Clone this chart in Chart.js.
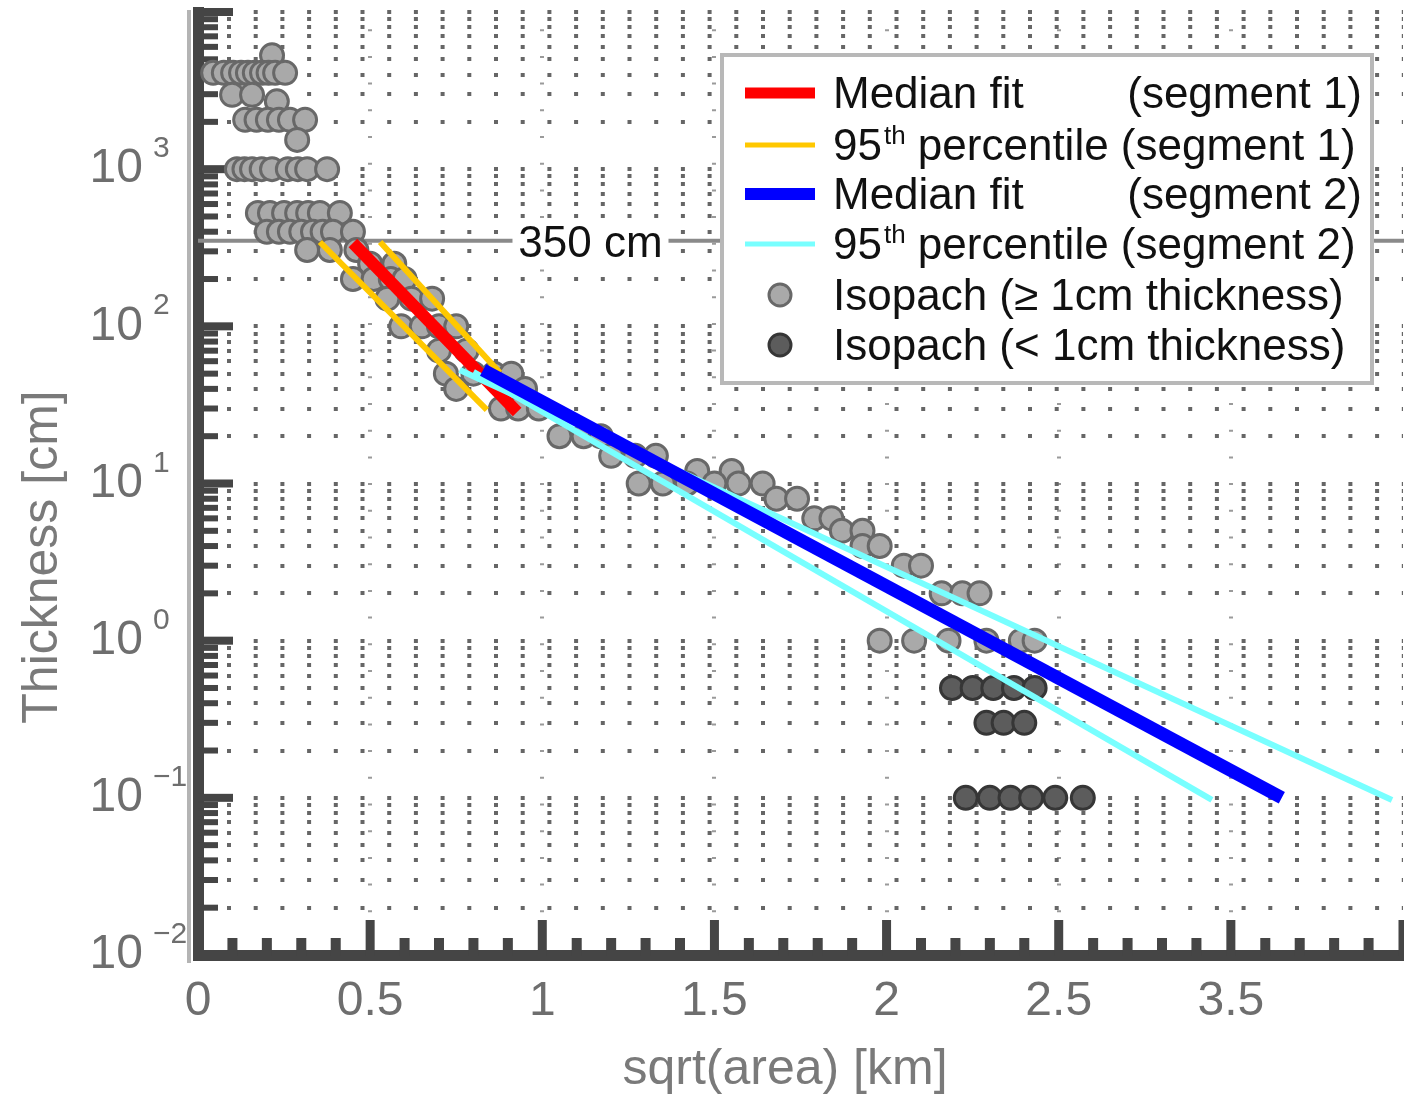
<!DOCTYPE html>
<html>
<head>
<meta charset="utf-8">
<title>Thickness vs sqrt(area)</title>
<script src="https://cdn.jsdelivr.net/npm/chart.js@4.4.1/dist/chart.umd.min.js"></script>
<style>
  html, body { margin: 0; padding: 0; background: #fff; overflow: hidden; }
  #wrap { width: 1404px; height: 1096px; }
</style>
</head>
<body>
<div id="wrap"><canvas id="isopachChart" width="1404" height="1096"></canvas></div>
<script>
const FONT = '"Liberation Sans", Arial, sans-serif';

// isopachs >= 1 cm: thickness level (cm) and the sqrt(area) values (km) found at that level
const grayLevels = [5300, 4100, 2970, 2700, 2060, 1535, 1000, 526, 400, 306, 250, 200, 150, 100,
  70, 50, 40, 30, 20, 15, 12, 10, 8, 6, 5, 4, 3, 2, 1];
const grayX = [
  [0.215],
  [0.044, 0.075, 0.102, 0.125, 0.145, 0.165, 0.186, 0.205, 0.224, 0.253],
  [0.099, 0.157],
  [0.229],
  [0.137, 0.17, 0.203, 0.235, 0.267, 0.311],
  [0.288],
  [0.113, 0.135, 0.157, 0.185, 0.215, 0.261, 0.29, 0.317, 0.375],
  [0.174, 0.209, 0.25, 0.288, 0.32, 0.354, 0.412],
  [0.2, 0.235, 0.267, 0.3, 0.334, 0.362, 0.392, 0.45],
  [0.317, 0.383, 0.46],
  [0.5, 0.57],
  [0.45, 0.51, 0.56, 0.6],
  [0.55, 0.62, 0.68],
  [0.59, 0.65, 0.7, 0.75],
  [0.7, 0.78],
  [0.72, 0.8, 0.86, 0.91],
  [0.75, 0.95],
  [0.88, 0.93, 0.99],
  [1.05, 1.12, 1.17],
  [1.2, 1.27, 1.33],
  [1.45, 1.55],
  [1.28, 1.35, 1.42, 1.5, 1.57, 1.64],
  [1.68, 1.74],
  [1.79, 1.84],
  [1.87, 1.93],
  [1.93, 1.98],
  [2.05, 2.1],
  [2.16, 2.22, 2.27],
  [1.98, 2.08, 2.18, 2.29, 2.39, 2.43]
];

// isopachs < 1 cm
const darkLevels = [0.5, 0.3, 0.1];
const darkX = [
  [2.19, 2.25, 2.31, 2.37, 2.43],
  [2.29, 2.34, 2.4],
  [2.23, 2.3, 2.36, 2.42, 2.49, 2.57]
];

// fitted lines, end points [sqrt(area) km, thickness cm]
const seg1MedianX = [0.45, 0.927];
const seg1MedianY = [339, 28.5];
const seg1LowX = [0.354, 0.839];
const seg1LowY = [344, 29.4];
const seg1HighX = [0.529, 0.877];
const seg1HighY = [344, 50.6];
const seg2MedianX = [0.828, 3.148];
const seg2MedianY = [52.8, 0.1];
const seg2HighX = [0.76, 3.468];
const seg2HighY = [52.8, 0.097];
const seg2LowX = [0.8, 2.945];
const seg2LowY = [51.3, 0.097];

const thresholdCm = 350;

const xTickValues = [0, 0.5, 1, 1.5, 2, 2.5, 3, 3.5];
const xTickLabels = ['0', '0.5', '1', '1.5', '2', '2.5', '3.5', ''];
const yDecades = [-2, -1, 0, 1, 2, 3];

const legendNames = ['Median fit', '95th percentile', 'Median fit', '95th percentile',
  'Isopach (\u2265 1cm thickness)', 'Isopach (< 1cm thickness)'];
const legendSegments = ['(segment 1)', '(segment 1)', '(segment 2)', '(segment 2)', '', ''];

// minor grid for the log axis: 1..9 x 10^k
const yGridValues = [];
yDecades.forEach(e => {
  for (let d = 1; d <= 9; d++) yGridValues.push(parseFloat((d * Math.pow(10, e)).toPrecision(3)));
});
yGridValues.push(10000);

function isDecade(v) {
  const l = Math.log10(v);
  return Math.abs(l - Math.round(l)) < 1e-9;
}

function rows(levels, xs) {
  const pts = [];
  levels.forEach((lv, i) => xs[i].forEach(x => pts.push({ x: x, y: lv })));
  return pts;
}

function pair(xs, ys) {
  return xs.map((x, i) => ({ x: x, y: ys[i] }));
}

function lineSet(label, xs, ys, color, width, legendRow) {
  return {
    label: label, data: pair(xs, ys), showLine: true, borderColor: color, borderWidth: width,
    pointRadius: 0, pointHoverRadius: 0, fill: false, legendRow: legendRow
  };
}

// first dataset is painted last (on top)
const datasets = [
  lineSet('Median fit (segment 2)', seg2MedianX, seg2MedianY, '#0000ff', 13, 2),
  lineSet('95th percentile (segment 2)', seg2HighX, seg2HighY, '#78ffff', 6, 3),
  lineSet('95th percentile (segment 2) low', seg2LowX, seg2LowY, '#78ffff', 6, null),
  lineSet('Median fit (segment 1)', seg1MedianX, seg1MedianY, '#ff0000', 12, 0),
  lineSet('95th percentile (segment 1)', seg1LowX, seg1LowY, '#ffc800', 6, 1),
  lineSet('95th percentile (segment 1) high', seg1HighX, seg1HighY, '#ffc800', 6, null),
  {
    label: 'Isopach (\u2265 1cm thickness)', data: rows(grayLevels, grayX),
    backgroundColor: '#a9a9a9', borderColor: '#686868', borderWidth: 3, pointRadius: 11.5, legendRow: 4
  },
  {
    label: 'Isopach (< 1cm thickness)', data: rows(darkLevels, darkX),
    backgroundColor: '#5c5c5c', borderColor: '#363636', borderWidth: 3, pointRadius: 11.5, legendRow: 5
  }
];

function drawRich(ctx, text, x, y, size) {
  const m = text.match(/^(\d+)th(.*)$/);
  if (!m) {
    ctx.fillText(text, x, y);
    return x + ctx.measureText(text).width;
  }
  ctx.fillText(m[1], x, y);
  x += ctx.measureText(m[1]).width + 2;
  ctx.save();
  ctx.font = Math.round(size * 0.6) + 'px ' + FONT;
  ctx.fillText('th', x, y - size * 0.36);
  x += ctx.measureText('th').width;
  ctx.restore();
  ctx.fillText(m[2], x, y);
  return x + ctx.measureText(m[2]).width;
}

const decorations = {
  id: 'decorations',
  beforeDatasetsDraw(chart) {
    const { ctx, chartArea: a, scales: { x, y } } = chart;
    ctx.save();
    // pale edge next to the y axis
    ctx.fillStyle = '#b4b4b4';
    ctx.fillRect(a.left - 11, a.top - 2, 4, a.bottom - a.top + 10);

    // 350 cm reference line
    const yT = y.getPixelForValue(thresholdCm);
    ctx.strokeStyle = '#8a8a8a';
    ctx.lineWidth = 4;
    ctx.beginPath();
    ctx.moveTo(a.left, yT);
    ctx.lineTo(chart.width, yT);
    ctx.stroke();

    // inward tick marks
    ctx.fillStyle = '#454545';
    for (let i = 1; i <= 35; i++) {
      const px = x.getPixelForValue(i / 10);
      if (i % 5 === 0) ctx.fillRect(px - 4.5, a.bottom - 35, 9, 36);
      else ctx.fillRect(px - 5, a.bottom - 17, 10, 18);
    }
    yGridValues.forEach(v => {
      const py = y.getPixelForValue(v);
      if (isDecade(v)) ctx.fillRect(a.left, py - 4, 35, 8);
      else ctx.fillRect(a.left, py - 3, 20, 6);
    });
    ctx.restore();
  },
  afterDraw(chart) {
    const { ctx, chartArea: a, scales: { x, y } } = chart;
    ctx.save();

    // exponents of the y tick labels
    ctx.fillStyle = '#6e6e6e';
    ctx.font = '30px ' + FONT;
    ctx.textAlign = 'left';
    ctx.textBaseline = 'alphabetic';
    yDecades.forEach(e => {
      const py = y.getPixelForValue(Math.pow(10, e));
      ctx.fillText(e < 0 ? '\u2212' + Math.abs(e) : String(e), a.left - 45, py - 12);
    });

    // axis titles
    ctx.fillStyle = '#7a7a7a';
    ctx.font = '50px ' + FONT;
    ctx.textAlign = 'center';
    ctx.fillText('sqrt(area) [km]', 785, 1084);
    ctx.save();
    ctx.translate(57, 557);
    ctx.rotate(-Math.PI / 2);
    ctx.fillText('Thickness [cm]', 0, 0);
    ctx.restore();

    // 350 cm label
    const yT = y.getPixelForValue(thresholdCm);
    const cx = x.getPixelForValue(1.14);
    ctx.fillStyle = '#fff';
    ctx.fillRect(cx - 78, yT - 18, 156, 38);
    ctx.fillStyle = '#111';
    ctx.font = '44px ' + FONT;
    ctx.fillText(thresholdCm + ' cm', cx, yT + 16);

    // legend
    const lx = 722, ly = 55, lw = 650, lh = 328;
    ctx.fillStyle = '#fff';
    ctx.fillRect(lx, ly, lw, lh);
    ctx.strokeStyle = '#b8b8b8';
    ctx.lineWidth = 4;
    ctx.strokeRect(lx, ly, lw, lh);
    const rowY = [93, 145, 194, 244, 295, 345];
    chart.data.datasets.forEach(ds => {
      if (ds.legendRow === null || ds.legendRow === undefined) return;
      const r = ds.legendRow;
      const cy = rowY[r];
      if (ds.showLine) {
        ctx.strokeStyle = ds.borderColor;
        ctx.lineWidth = ds.borderWidth - 1;
        ctx.beginPath();
        ctx.moveTo(745, cy);
        ctx.lineTo(815, cy);
        ctx.stroke();
      } else {
        ctx.fillStyle = ds.backgroundColor;
        ctx.strokeStyle = ds.borderColor;
        ctx.lineWidth = 3;
        ctx.beginPath();
        ctx.arc(780, cy, 11, 0, Math.PI * 2);
        ctx.fill();
        ctx.stroke();
      }
      ctx.fillStyle = '#111';
      ctx.font = '44px ' + FONT;
      ctx.textAlign = 'left';
      const end = drawRich(ctx, legendNames[r], 833, cy + 15, 44);
      const seg = legendSegments[r];
      if (seg) {
        if (/^\d+th/.test(legendNames[r])) {
          ctx.fillText(' ' + seg, end, cy + 15);
        } else {
          ctx.textAlign = 'right';
          ctx.fillText(seg, 1362, cy + 15);
        }
      }
    });
    ctx.restore();
  }
};

Chart.defaults.font.family = FONT;

new Chart(document.getElementById('isopachChart'), {
  type: 'scatter',
  data: { datasets: datasets },
  options: {
    responsive: false,
    animation: false,
    layout: { autoPadding: false, padding: { top: 12, right: 1, left: 0, bottom: 0 } },
    plugins: {
      legend: { display: false },
      tooltip: { enabled: false }
    },
    scales: {
      x: {
        type: 'linear',
        min: 0,
        max: 3.5,
        afterBuildTicks: s => { s.ticks = xTickValues.map(v => ({ value: v })); },
        afterFit: s => { s.height = 141; s.paddingLeft = 0; s.paddingRight = 0; },
        ticks: {
          autoSkip: false, maxRotation: 0, padding: 18, color: '#6e6e6e',
          font: { size: 48 },
          callback: (v, i) => xTickLabels[i]
        },
        grid: {
          drawTicks: false,
          lineWidth: 4,
          color: c => (c.tick && c.tick.value > 0 && c.tick.value < 3.5) ? '#9a9a9a' : 'rgba(0,0,0,0)'
        },
        border: { color: '#454545', width: 11, dash: [2, 24.7], dashOffset: 9.5 }
      },
      y: {
        type: 'logarithmic',
        min: 0.01,
        max: 10000,
        afterBuildTicks: s => { s.ticks = yGridValues.map(v => ({ value: v })); },
        afterFit: s => { s.width = 198; s.paddingTop = 0; s.paddingBottom = 0; },
        ticks: {
          autoSkip: false, padding: 55, color: '#6e6e6e',
          font: { size: 48 },
          callback: v => (isDecade(v) && v < 10000) ? '10' : ''
        },
        grid: { drawTicks: false, lineWidth: 4, color: '#666666' },
        border: { color: '#454545', width: 11, dash: [4, 22.7], dashOffset: 3.7 }
      }
    }
  },
  plugins: [decorations]
});
</script>
</body>
</html>
